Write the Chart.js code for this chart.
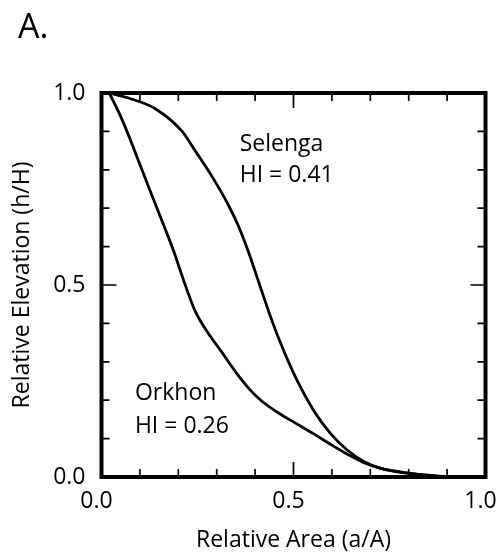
<!DOCTYPE html>
<html>
<head>
<meta charset="utf-8">
<script src="https://cdn.jsdelivr.net/npm/chart.js@4.4.1/dist/chart.umd.min.js"></script>
<style>
  html, body { margin: 0; padding: 0; background: #fff; }
  #wrap { width: 497px; height: 556px; }
</style>
</head>
<body>
<div id="wrap"><canvas id="hypso" width="497" height="556"></canvas></div>
<script>
// hypsometric curves (relative area -> relative elevation)
const selengaX = [0.02, 0.07, 0.14, 0.21, 0.245, 0.29, 0.33, 0.356, 0.382, 0.41, 0.435, 0.465, 0.508, 0.552, 0.595, 0.639, 0.682, 0.725, 0.795, 0.855, 0.9];
const selengaY = [1.0, 0.987, 0.959, 0.9, 0.848, 0.779, 0.709, 0.655, 0.588, 0.506, 0.432, 0.352, 0.254, 0.174, 0.115, 0.071, 0.041, 0.023, 0.01, 0.004, 0.0];
const orkhonX = [0.02, 0.044, 0.07, 0.1, 0.126, 0.161, 0.187, 0.204, 0.222, 0.243, 0.274, 0.309, 0.352, 0.387, 0.417, 0.462, 0.504, 0.552, 0.595, 0.639, 0.682, 0.725, 0.795, 0.855, 0.9];
const orkhonY = [1.0, 0.952, 0.891, 0.814, 0.747, 0.658, 0.591, 0.541, 0.489, 0.434, 0.38, 0.331, 0.27, 0.227, 0.198, 0.166, 0.141, 0.113, 0.086, 0.06, 0.038, 0.023, 0.011, 0.004, 0.0];

const tickLabels = [0, 0.5, 1.0];
const majorTicks = [0.5];
const minorTicks = [0.1, 0.2, 0.3, 0.4, 0.6, 0.7, 0.8, 0.9];

const notes = [
  { text: "Selenga", x: 0.36, y: 0.85 },
  { text: "HI = 0.41", x: 0.36, y: 0.768 },
  { text: "Orkhon", x: 0.087, y: 0.2 },
  { text: "HI = 0.26", x: 0.087, y: 0.115 },
];

const toPoints = (xs, ys) => xs.map((x, i) => ({ x, y: ys[i] }));
const FONT = "'Open Sans', 'DejaVu Sans', sans-serif";
Chart.defaults.font.family = FONT;
Chart.defaults.color = "#000";

const framePlugin = {
  id: "frame",
  afterDatasetsDraw(chart) {
    const { ctx, chartArea: a, scales } = chart;
    const xs = scales.x;
    const ys = scales.y;
    ctx.save();
    ctx.strokeStyle = "#000";
    ctx.lineCap = "butt";
    ctx.lineWidth = 1.7;
    const drawTicks = (values, len) => {
      values.forEach((v) => {
        const px = xs.getPixelForValue(v);
        const py = ys.getPixelForValue(v);
        ctx.beginPath();
        ctx.moveTo(px, a.bottom); ctx.lineTo(px, a.bottom - len);
        ctx.moveTo(px, a.top); ctx.lineTo(px, a.top + len);
        ctx.moveTo(a.left, py); ctx.lineTo(a.left + len, py);
        ctx.moveTo(a.right, py); ctx.lineTo(a.right - len, py);
        ctx.stroke();
      });
    };
    drawTicks(minorTicks, 8);
    drawTicks(majorTicks, 15);
    ctx.lineWidth = 4;
    ctx.strokeRect(a.left, a.top, a.right - a.left, a.bottom - a.top);

    ctx.fillStyle = "#000";
    ctx.font = "23px " + FONT;
    ctx.textAlign = "left";
    ctx.textBaseline = "alphabetic";
    notes.forEach((n) => {
      ctx.fillText(n.text, xs.getPixelForValue(n.x), ys.getPixelForValue(n.y));
    });
    ctx.restore();
  },
};

const lineStyle = {
  borderColor: "#000",
  backgroundColor: "#000",
  borderWidth: 2.8,
  pointRadius: 0,
  showLine: true,
  fill: false,
  cubicInterpolationMode: "monotone",
};

new Chart(document.getElementById("hypso"), {
  type: "scatter",
  data: {
    datasets: [
      { label: "Selenga", data: toPoints(selengaX, selengaY), ...lineStyle },
      { label: "Orkhon", data: toPoints(orkhonX, orkhonY), ...lineStyle },
    ],
  },
  options: {
    responsive: false,
    animation: false,
    devicePixelRatio: 1,
    layout: { autoPadding: false, padding: { left: 18, right: 11.5, top: 0, bottom: 0 } },
    plugins: {
      legend: { display: false },
      tooltip: { enabled: false },
      title: {
        display: true,
        text: "A.",
        align: "start",
        color: "#000",
        font: { size: 34, weight: "normal", family: FONT },
        padding: { top: 8, bottom: 44.2 },
      },
    },
    scales: {
      x: {
        type: "linear",
        min: 0,
        max: 1,
        afterBuildTicks: (s) => { s.ticks = tickLabels.map((v) => ({ value: v })); },
        afterFit: (s) => { s.height = 79; s.paddingLeft = 0; s.paddingRight = 0; },
        ticks: { padding: 11, labelOffset: -5, maxRotation: 0, autoSkip: false, font: { size: 23 }, callback: (v) => v.toFixed(1) },
        grid: { display: false, drawTicks: false },
        border: { display: false },
        title: { display: true, text: "Relative Area (a/A)", font: { size: 23 }, padding: { top: 0, bottom: 2.2 } },
      },
      y: {
        type: "linear",
        min: 0,
        max: 1,
        afterBuildTicks: (s) => { s.ticks = tickLabels.map((v) => ({ value: v })); },
        afterFit: (s) => { s.width = 83.5; s.paddingTop = 0; s.paddingBottom = 0; },
        ticks: { padding: 16, autoSkip: false, font: { size: 23 }, callback: (v) => v.toFixed(1) },
        grid: { display: false, drawTicks: false },
        border: { display: false },
        title: { display: true, text: "Relative Elevation (h/H)", font: { size: 23 }, padding: { top: -9, bottom: 0 } },
      },
    },
  },
  plugins: [framePlugin],
});
</script>
</body>
</html>
